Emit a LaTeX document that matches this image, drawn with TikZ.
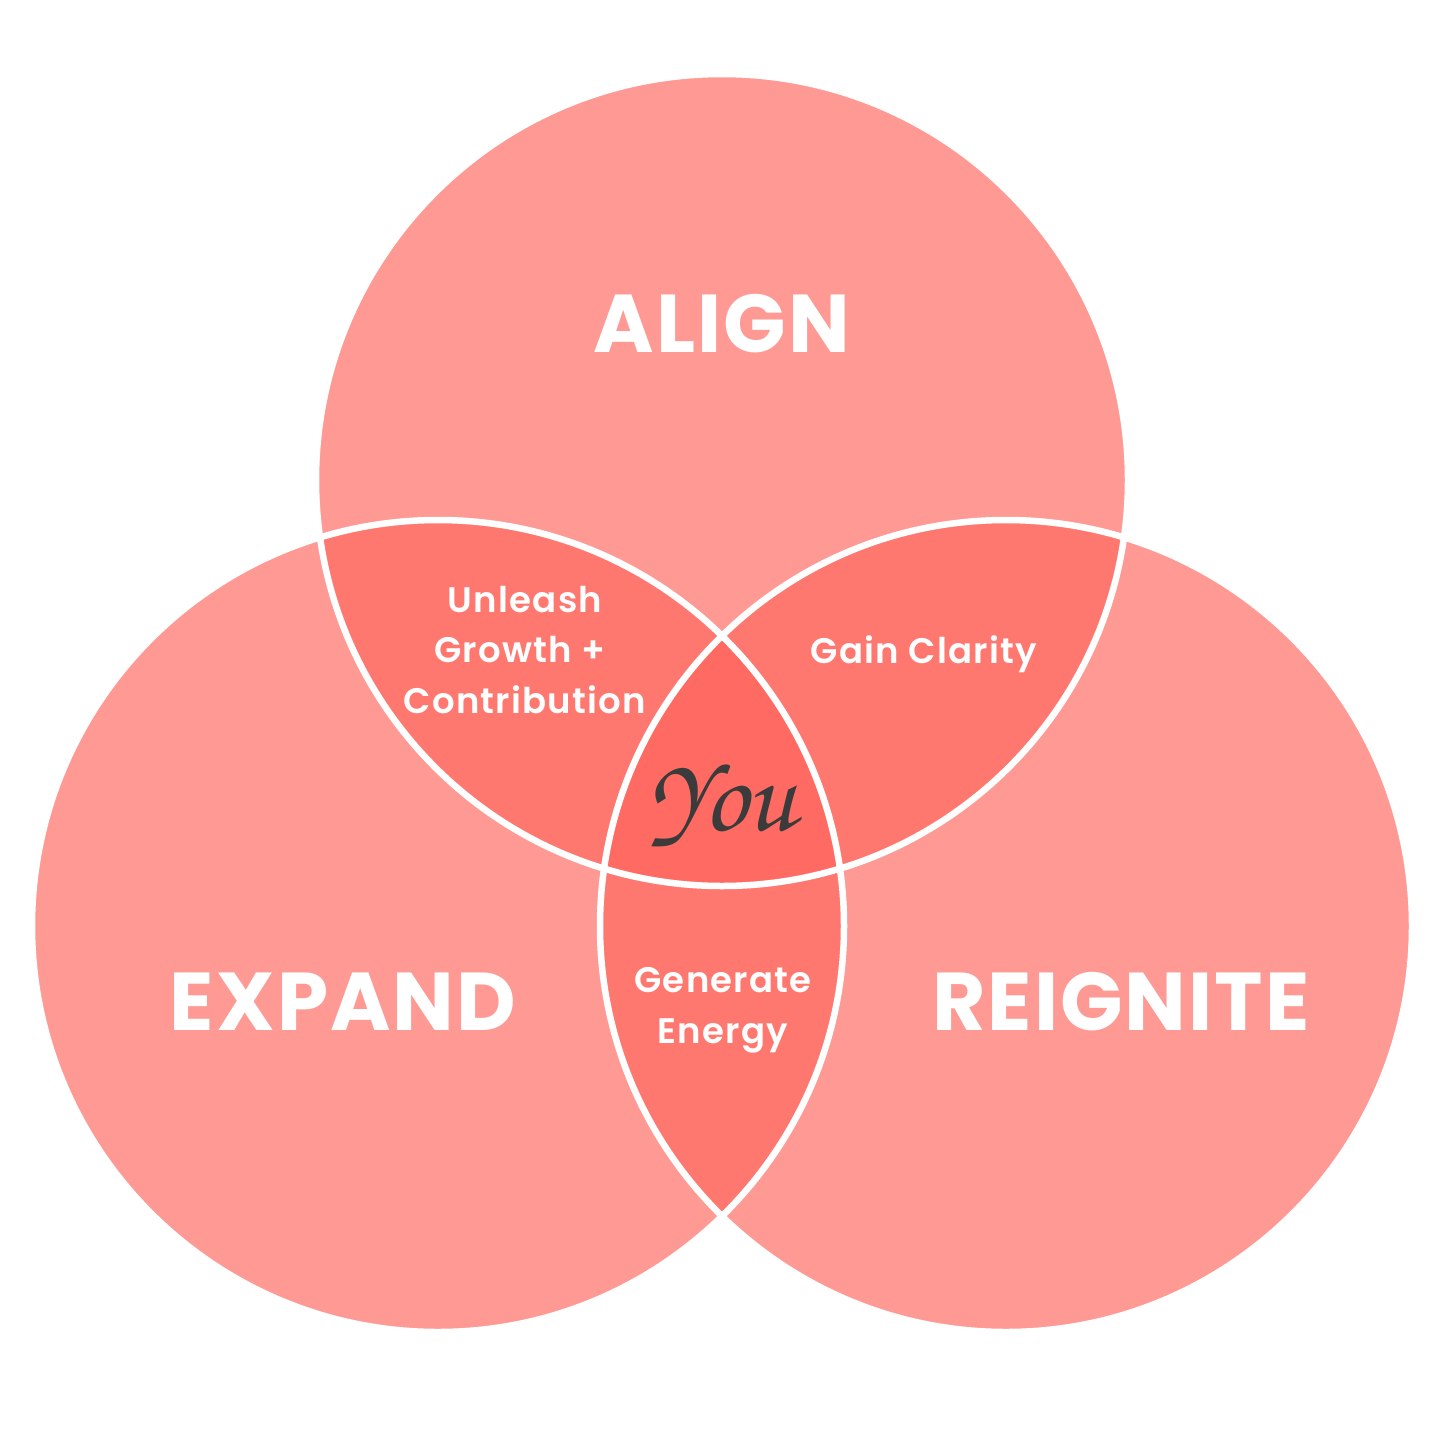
\documentclass[tikz,border=0pt]{standalone}
\usepackage[T1,TU]{fontenc}
\usepackage{fontspec}
\setmainfont{Poppins}
\newfontfamily\bigfont{Poppins}[LetterSpace=2.5]
\newfontfamily\smallfont{Poppins SemiBold}[LetterSpace=3.5]
\definecolor{cone}{HTML}{FF9994}
\definecolor{ctwo}{HTML}{FF7870}
\definecolor{cthree}{HTML}{FF6B63}
\definecolor{youcol}{HTML}{3B3B3B}
\tikzset{
  big/.style={text=white,font=\bigfont\fontsize{82}{82}\selectfont\bfseries,anchor=base,inner sep=0pt},
  small/.style={text=white,font=\smallfont\fontsize{35.5}{50}\selectfont,anchor=base,inner sep=0pt},
  ring/.style={draw=white,line width=6.5pt}
}
\begin{document}
\begin{tikzpicture}[x=1pt,y=-1pt]
\useasboundingbox (0,0) rectangle (1442,1440);
\def\R{406pt}
\coordinate (A) at (722,480);
\coordinate (L) at (438,926);
\coordinate (Q) at (1006,926);
\fill[cone] (A) circle (\R);
\fill[cone] (L) circle (\R);
\fill[cone] (Q) circle (\R);
\begin{scope}
  \clip (A) circle (\R);
  \fill[ctwo] (L) circle (\R);
  \fill[ctwo] (Q) circle (\R);
\end{scope}
\begin{scope}
  \clip (L) circle (\R);
  \fill[ctwo] (Q) circle (\R);
\end{scope}
\begin{scope}
  \clip (A) circle (\R);
  \clip (L) circle (\R);
  \fill[cthree] (Q) circle (\R);
\end{scope}
\draw[ring] (A) circle (\R);
\draw[ring] (L) circle (\R);
\draw[ring] (Q) circle (\R);
\node[big] (align) at (722,352) {ALIGN};
\node[big] (expand) at (343,1030) {EXPAND};
\node[big] (reignite) at (1121,1030) {REIGNITE};
\node[small] (u1) at (525,612) {Unleash};
\node[small] (u2) at (520,662) {Growth +};
\node[small] (u3) at (525,713) {Contribution};
\node[small] (gain) at (924,663) {Gain Clarity};
\node[small] (g1) at (723,992) {Generate};
\node[small] (g2) at (723,1043) {Energy};
\node[text=youcol,font=\fontencoding{T1}\fontfamily{pzc}\fontsize{108}{108}\selectfont,inner sep=0pt] (you) at (722,805) {You};
\end{tikzpicture}
\end{document}
